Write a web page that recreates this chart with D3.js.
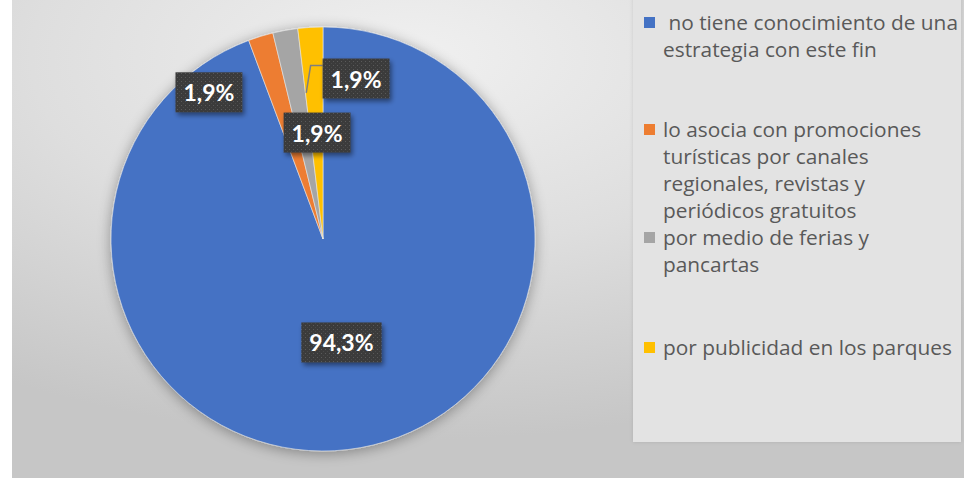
<!DOCTYPE html>
<html>
<head>
<meta charset="utf-8">
<script src="https://cdn.jsdelivr.net/npm/d3@7"></script>
<style>
  html, body { margin: 0; padding: 0; background: #ffffff; }
  svg { display: block; }
</style>
</head>
<body>
<svg id="chart" width="964" height="478"></svg>
<script>
// Respuestas: conocimiento de estrategias de promoción
const categories = [
  " no tiene conocimiento de una estrategia con este fin",
  "lo asocia con promociones turísticas por canales regionales, revistas y periódicos gratuitos",
  "por medio de ferias y pancartas",
  "por publicidad en los parques"
];
const values = [94.3, 1.9, 1.9, 1.9];
const valueLabels = ["94,3%", "1,9%", "1,9%", "1,9%"];
const colors = ["#4472C4", "#ED7D31", "#A5A5A5", "#FFC000"];
// legend lines as wrapped in the legend panel
const legendLines = [
  [" no tiene conocimiento de una", "estrategia con este fin"],
  ["lo asocia con promociones", "turísticas por canales", "regionales, revistas y", "periódicos gratuitos"],
  ["por medio de ferias y", "pancartas"],
  ["por publicidad en los parques"]
];

const W = 964, H = 478;
const svg = d3.select("#chart");
const defs = svg.append("defs");

// chart area background: soft radial gradient
const bg = defs.append("radialGradient").attr("id", "bgGrad")
  .attr("cx", "42%").attr("cy", "12%").attr("r", "80%");
bg.append("stop").attr("offset", "0%").attr("stop-color", "#f0f0f0");
bg.append("stop").attr("offset", "50%").attr("stop-color", "#dedede");
bg.append("stop").attr("offset", "100%").attr("stop-color", "#c6c6c6");

const pieShadow = defs.append("filter").attr("id", "pieShadow")
  .attr("x", "-20%").attr("y", "-20%").attr("width", "140%").attr("height", "140%");
pieShadow.append("feGaussianBlur").attr("in", "SourceAlpha").attr("stdDeviation", 7).attr("result", "b");
pieShadow.append("feOffset").attr("in", "b").attr("dx", 0).attr("dy", 2).attr("result", "o");
pieShadow.append("feComponentTransfer").attr("in", "o").attr("result", "s")
  .append("feFuncA").attr("type", "linear").attr("slope", 0.35);
const pm = pieShadow.append("feMerge");
pm.append("feMergeNode").attr("in", "s");
pm.append("feMergeNode").attr("in", "SourceGraphic");

const boxShadow = defs.append("filter").attr("id", "boxShadow")
  .attr("x", "-30%").attr("y", "-30%").attr("width", "160%").attr("height", "160%");
boxShadow.append("feGaussianBlur").attr("in", "SourceAlpha").attr("stdDeviation", 2.5).attr("result", "b");
boxShadow.append("feOffset").attr("in", "b").attr("dx", 2).attr("dy", 3).attr("result", "o");
boxShadow.append("feComponentTransfer").attr("in", "o").attr("result", "s")
  .append("feFuncA").attr("type", "linear").attr("slope", 0.45);
const bm = boxShadow.append("feMerge");
bm.append("feMergeNode").attr("in", "s");
bm.append("feMergeNode").attr("in", "SourceGraphic");

const panelShadow = defs.append("filter").attr("id", "panelShadow")
  .attr("x", "-10%").attr("y", "-10%").attr("width", "120%").attr("height", "120%");
panelShadow.append("feGaussianBlur").attr("in", "SourceAlpha").attr("stdDeviation", 2).attr("result", "b");
panelShadow.append("feComponentTransfer").attr("in", "b").attr("result", "s")
  .append("feFuncA").attr("type", "linear").attr("slope", 0.12);
const lm = panelShadow.append("feMerge");
lm.append("feMergeNode").attr("in", "s");
lm.append("feMergeNode").attr("in", "SourceGraphic");

// dotted texture for the data label boxes
const pat = defs.append("pattern").attr("id", "dots")
  .attr("width", 4).attr("height", 4).attr("patternUnits", "userSpaceOnUse");
pat.append("rect").attr("width", 4).attr("height", 4).attr("fill", "#3b3b3b");
pat.append("rect").attr("x", 1).attr("y", 1).attr("width", 1).attr("height", 1).attr("fill", "#5a5a5a");
pat.append("rect").attr("x", 3).attr("y", 3).attr("width", 1).attr("height", 1).attr("fill", "#4a4a4a");

const plotLeft = 12;
svg.append("rect").attr("x", plotLeft).attr("y", 0)
  .attr("width", W - plotLeft).attr("height", H)
  .attr("fill", "url(#bgGrad)");

// pie
const cx = 323, cy = 239, R = 212;
const pie = d3.pie().sort(null).value(d => d);
const arcs = pie(values);
const arc = d3.arc().innerRadius(0).outerRadius(R);

const gPie = svg.append("g").attr("transform", `translate(${cx},${cy})`);
gPie.append("g").attr("filter", "url(#pieShadow)")
  .selectAll("path").data(arcs).join("path")
  .attr("d", arc)
  .attr("fill", (d, i) => colors[i])
  .attr("stroke", "#e8e8e8").attr("stroke-width", 0.6);

// legend panel
const legX = 633, legW = 328, legH = 442;
svg.append("rect").attr("x", legX).attr("y", -4).attr("width", legW).attr("height", legH + 4)
  .attr("fill", "#e3e3e3").attr("filter", "url(#panelShadow)");

const legendFont = "'Open Sans', Lato, sans-serif";
// size the legend font so the longest line fills the panel width
const probe = svg.append("text").attr("font-family", legendFont).attr("font-size", 20)
  .text(legendLines[3][0]);
const legendSize = 20 * 289 / probe.node().getComputedTextLength();
probe.remove();

const legendTop = [30, 137, 245, 355];
const lineH = 27;
const gLeg = svg.append("g");
legendLines.forEach((lines, i) => {
  const y0 = legendTop[i];
  gLeg.append("rect").attr("x", legX + 11).attr("y", y0 - 13)
    .attr("width", 11).attr("height", 11).attr("fill", colors[i]);
  const t = gLeg.append("text")
    .attr("x", legX + 30).attr("y", y0)
    .attr("font-family", legendFont)
    .attr("font-size", legendSize).attr("fill", "#595959")
    .attr("xml:space", "preserve");
  lines.forEach((ln, k) => {
    t.append("tspan").attr("x", legX + 30).attr("y", y0 + k * lineH).text(ln);
  });
});

// data labels (positions in radius units relative to the pie centre)
const labelPos = [[0.087, 0.488], [-0.538, -0.692], [-0.028, -0.502], [0.156, -0.757]];
const gLab = svg.append("g");
arcs.forEach((a, i) => {
  const lx = cx + labelPos[i][0] * R, ly = cy + labelPos[i][1] * R;
  const g = gLab.append("g");
  const txt = g.append("text")
    .attr("x", lx).attr("y", ly)
    .attr("text-anchor", "middle").attr("dominant-baseline", "central")
    .attr("font-family", "Lato, 'Open Sans', sans-serif")
    .attr("font-weight", "bold").attr("font-size", 23)
    .attr("fill", "#ffffff")
    .text(valueLabels[i]);
  const bb = txt.node().getBBox();
  const padX = 8, boxH = 40;
  g.insert("rect", "text")
    .attr("x", bb.x - padX).attr("y", ly - boxH / 2)
    .attr("width", bb.width + 2 * padX).attr("height", boxH)
    .attr("fill", "url(#dots)").attr("filter", "url(#boxShadow)");
  // leader line for the last slice, whose label sits outside it
  if (i === 3) {
    const ang = a.startAngle + 0.005;
    const rr = 147;
    const ex = cx + rr * Math.sin(ang), ey = cy - rr * Math.cos(ang);
    const bx = bb.x - padX, by = ly - 13;
    gLab.insert("path", ":first-child")
      .attr("d", `M${bx},${by} L${bx - 12},${by} L${ex},${ey}`)
      .attr("fill", "none").attr("stroke", "#7f7f7f").attr("stroke-width", 1.5);
  }
});
</script>
</body>
</html>
